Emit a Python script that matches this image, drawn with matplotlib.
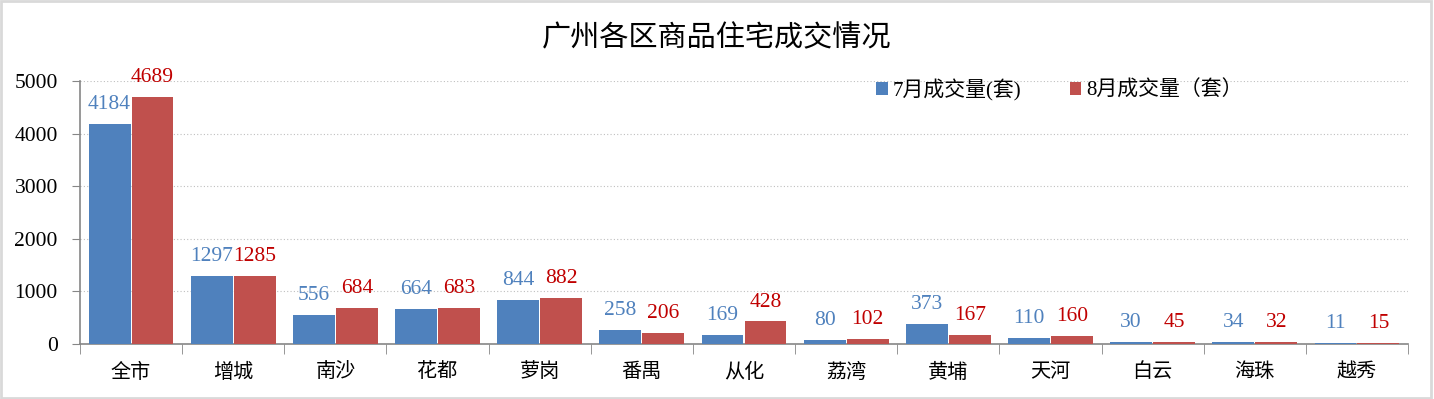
import numpy as np
import matplotlib
matplotlib.use('Agg')
import matplotlib.pyplot as plt
from matplotlib.patches import Rectangle

plt.rcParams['font.family'] = ['Liberation Serif', 'Noto Sans CJK SC', 'DejaVu Sans']

# 数据
districts = ['全市', '增城', '南沙', '花都', '萝岗', '番禺', '从化', '荔湾', '黄埔', '天河', '白云', '海珠', '越秀']
july = [4184, 1297, 556, 664, 844, 258, 169, 80, 373, 110, 30, 34, 11]
august = [4689, 1285, 684, 683, 882, 206, 428, 102, 167, 160, 45, 32, 15]
series_names = ['7月成交量(套)', '8月成交量（套）']

blue = '#4F81BD'
red = '#C0504D'
blue_txt = '#4F81BD'
red_txt = '#C00000'

fig = plt.figure(figsize=(14.34, 3.99), dpi=100)
ax = fig.add_axes([80 / 1434, 55 / 399, 1328 / 1434, 263 / 399])

x = np.arange(len(districts))
w = 0.41
b1 = ax.bar(x - w / 2 - 0.005, july, width=w, color=blue, label=series_names[0], zorder=3)
b2 = ax.bar(x + w / 2 + 0.005, august, width=w, color=red, label=series_names[1], zorder=3)

# 数据标签
for rect, v in zip(b1, july):
    ax.annotate(str(v), (rect.get_x() + rect.get_width() / 2, v), xytext=(0, 14),
                textcoords='offset points', ha='center', va='center',
                fontsize=15.5, color=blue_txt, zorder=4)
for rect, v in zip(b2, august):
    ax.annotate(str(v), (rect.get_x() + rect.get_width() / 2, v), xytext=(0, 14),
                textcoords='offset points', ha='center', va='center',
                fontsize=15.5, color=red_txt, zorder=4)

ax.set_xlim(-0.5, len(districts) - 0.5)
ax.set_ylim(0, 5000)
ax.set_yticks([0, 1000, 2000, 3000, 4000, 5000])
ax.yaxis.grid(True, linestyle=(0, (1, 2)), color='#BFBFBF', linewidth=0.8, zorder=0)

ax.set_xticks(x)
ax.set_xticklabels(districts, fontsize=14.5)
ax.set_xticks(np.arange(len(districts) + 1) - 0.5, minor=True)
ax.tick_params(axis='x', which='major', length=0, pad=14)
ax.tick_params(axis='x', which='minor', length=7, color='#868686', direction='out')
ax.tick_params(axis='y', length=6, color='#868686', direction='out', labelsize=15.5, pad=10)

for s in ['top', 'right']:
    ax.spines[s].set_visible(False)
for s in ['left', 'bottom']:
    ax.spines[s].set_color('#868686')
    ax.spines[s].set_linewidth(1.2)

ax.legend(loc='center left', bbox_to_anchor=((868 - 80) / 1328, 0.966), ncol=2, frameon=False,
          fontsize=15, handlelength=0.55, handleheight=0.55, handletextpad=0.25, columnspacing=2.3,
          borderaxespad=0)

fig.text(0.5, 1 - 39 / 399, '广州各区商品住宅成交情况', ha='center', va='center', fontsize=21)

# 外框
fig.patches.append(Rectangle((0.001, 0.002), 0.997, 0.995, transform=fig.transFigure,
                             fill=False, edgecolor='#D9D9D9', linewidth=2))

fig.savefig('out.png', dpi=100)
